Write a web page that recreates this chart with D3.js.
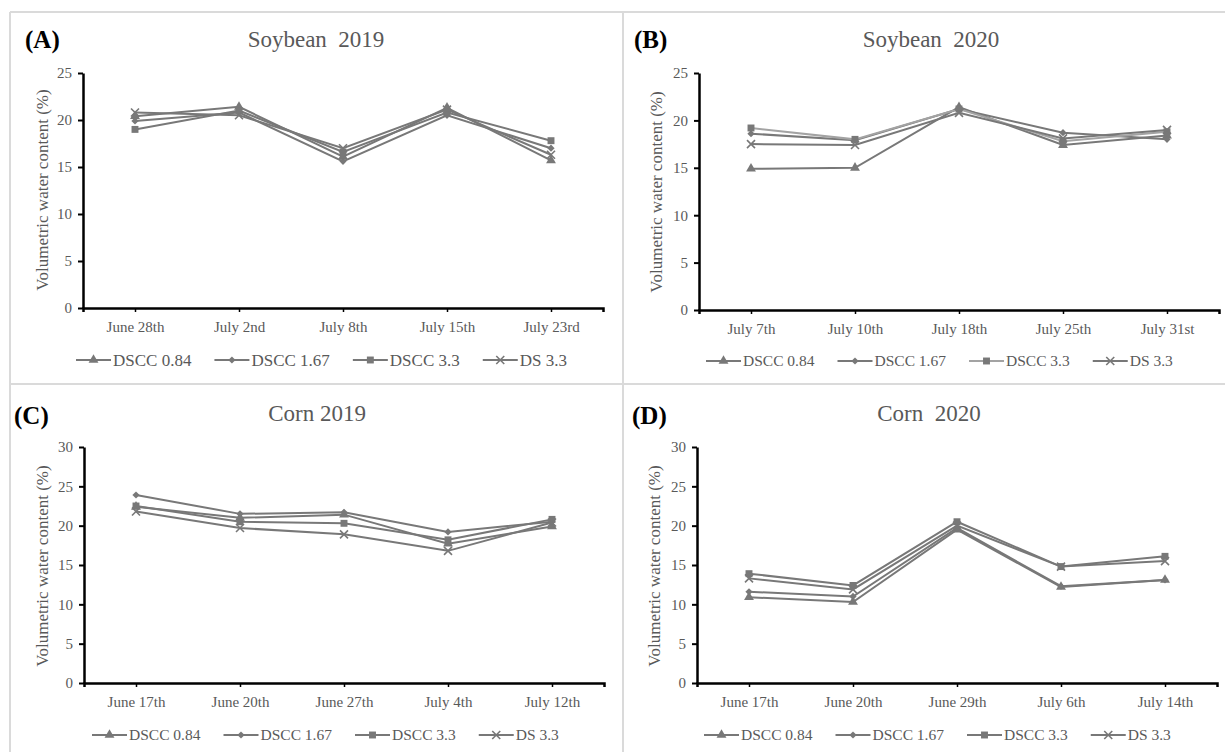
<!DOCTYPE html>
<html>
<head>
<meta charset="utf-8">
<script src="https://cdn.jsdelivr.net/npm/d3@7"></script>
<style>
  body { margin: 0; background: #fff; }
  svg { display: block; font-family: "Liberation Serif", "Times New Roman", serif; }
</style>
</head>
<body>
<div id="chart"></div>
<script>
// series names (legend order)
var seriesNames = ["DSCC 0.84", "DSCC 1.67", "DSCC 3.3", "DS 3.3"];

// (A) Soybean 2019
var soy2019Dates = ["June 28th", "July 2nd", "July 8th", "July 15th", "July 23rd"];
var soy2019Dscc084 = [20.4, 21.4, 16.1, 21.3, 15.7];
var soy2019Dscc167 = [19.9, 20.8, 15.6, 20.5, 17.0];
var soy2019Dscc33 = [19.0, 21.0, 16.6, 20.8, 17.8];
var soy2019Ds33 = [20.8, 20.5, 17.0, 21.1, 16.3];

// (B) Soybean 2020
var soy2020Dates = ["July 7th", "July 10th", "July 18th", "July 25th", "July 31st"];
var soy2020Dscc084 = [14.9, 15.0, 21.4, 17.4, 18.4];
var soy2020Dscc167 = [18.6, 17.9, 21.2, 18.7, 18.0];
var soy2020Dscc33 = [19.2, 18.0, 21.2, 17.8, 18.8];
var soy2020Ds33 = [17.5, 17.4, 20.8, 18.1, 19.0];

// (C) Corn 2019
var corn2019Dates = ["June 17th", "June 20th", "June 27th", "July 4th", "July 12th"];
var corn2019Dscc084 = [22.4, 21.0, 21.4, 17.7, 19.9];
var corn2019Dscc167 = [23.9, 21.5, 21.7, 19.2, 20.5];
var corn2019Dscc33 = [22.5, 20.5, 20.3, 18.2, 20.8];
var corn2019Ds33 = [21.8, 19.7, 18.9, 16.8, 20.4];

// (D) Corn 2020
var corn2020Dates = ["June 17th", "June 20th", "June 29th", "July 6th", "July 14th"];
var corn2020Dscc084 = [10.9, 10.3, 19.5, 12.2, 13.1];
var corn2020Dscc167 = [11.6, 11.0, 19.7, 12.3, 13.1];
var corn2020Dscc33 = [13.9, 12.4, 20.5, 14.8, 16.1];
var corn2020Ds33 = [13.3, 11.9, 20.0, 14.8, 15.5];

// y ticks
var soyTicks = [0, 5, 10, 15, 20, 25];
var cornTicks = [0, 5, 10, 15, 20, 25, 30];

var w = 1225, h = 752;
var grey = "#787878", textGrey = "#595959";
var markers = ["triangle", "diamond", "square", "cross"];

// panel layout
var panels = [
  { tag: "(A)", title: "Soybean  2019", dates: soy2019Dates, yTicks: soyTicks,
    series: [soy2019Dscc084, soy2019Dscc167, soy2019Dscc33, soy2019Ds33],
    x0: 83, yBottom: 308, yTop: 73, titleX: 316, titleY: 47, tagX: 25, tagY: 48,
    ylabX: 48, ylabY: 190, legX: 76, legY: 360, legFont: 17, lineColors: [grey, grey, grey, grey] },
  { tag: "(B)", title: "Soybean  2020", dates: soy2020Dates, yTicks: soyTicks,
    series: [soy2020Dscc084, soy2020Dscc167, soy2020Dscc33, soy2020Ds33],
    x0: 699, yBottom: 310, yTop: 73, titleX: 931, titleY: 47, tagX: 634, tagY: 48,
    ylabX: 662, ylabY: 192, legX: 706, legY: 361, legFont: 15.5, lineColors: [grey, grey, "#a3a3a3", grey] },
  { tag: "(C)", title: "Corn 2019", dates: corn2019Dates, yTicks: cornTicks,
    series: [corn2019Dscc084, corn2019Dscc167, corn2019Dscc33, corn2019Ds33],
    x0: 84, yBottom: 683, yTop: 447, titleX: 317, titleY: 421, tagX: 14, tagY: 424,
    ylabX: 48, ylabY: 566, legX: 92, legY: 735, legFont: 15.5, lineColors: [grey, grey, grey, grey] },
  { tag: "(D)", title: "Corn  2020", dates: corn2020Dates, yTicks: cornTicks,
    series: [corn2020Dscc084, corn2020Dscc167, corn2020Dscc33, corn2020Ds33],
    x0: 697, yBottom: 683, yTop: 447, titleX: 929, titleY: 421, tagX: 632, tagY: 424,
    ylabX: 660, ylabY: 566, legX: 704, legY: 735, legFont: 15.5, lineColors: [grey, grey, grey, grey] }
];

var svg = d3.select("#chart")
  .append("svg")
  .attr("width", w)
  .attr("height", h);

// panel borders
var borders = [[10, 12, w, 12], [10, 12, 10, h], [623, 12, 623, h], [10, 384, w, 384]];
svg.selectAll("line.border")
  .data(borders)
  .enter()
  .append("line")
  .attr("class", "border")
  .attr("x1", d => d[0]).attr("y1", d => d[1])
  .attr("x2", d => d[2]).attr("y2", d => d[3])
  .attr("stroke", "#dadada")
  .attr("stroke-width", 2);

function drawMarker(g, type, x, y) {
  if (type === "cross") {
    g.append("path")
      .attr("d", "M-4,-4L4,4M-4,4L4,-4")
      .attr("transform", "translate(" + x + "," + y + ")")
      .attr("stroke", grey)
      .attr("stroke-width", 1.6)
      .attr("fill", "none");
    return;
  }
  var sym = type === "triangle" ? d3.symbolTriangle : d3.symbolSquare;
  var size = type === "triangle" ? 42 : (type === "square" ? 48 : 26);
  var rot = type === "diamond" ? " rotate(45)" : "";
  g.append("path")
    .attr("d", d3.symbol().type(sym).size(size)())
    .attr("transform", "translate(" + x + "," + y + ")" + rot)
    .attr("fill", grey);
}

panels.forEach(function(p) {
  var g = svg.append("g");
  var yMax = p.yTicks[p.yTicks.length - 1];

  var x = d3.scalePoint()
    .domain(p.dates)
    .range([p.x0, p.x0 + 520])
    .padding(0.5);

  var y = d3.scaleLinear()
    .domain([0, yMax])
    .range([p.yBottom, p.yTop]);

  // y axis
  var ya = g.append("g")
    .attr("transform", "translate(" + p.x0 + ",0)")
    .call(d3.axisLeft(y).tickValues(p.yTicks).tickSize(5).tickSizeOuter(0).tickPadding(6));
  ya.select(".domain").attr("stroke", "#000").attr("stroke-width", 2.5);
  ya.selectAll(".tick line").attr("stroke", "#000").attr("stroke-width", 2);
  ya.selectAll(".tick text")
    .attr("fill", textGrey)
    .style("font-size", "15px")
    .style("font-family", "'Liberation Serif', 'Times New Roman', serif");

  // x axis
  var xa = g.append("g")
    .attr("transform", "translate(0," + p.yBottom + ")")
    .call(d3.axisBottom(x).tickSize(4).tickSizeOuter(4).tickPadding(9));
  xa.select(".domain").attr("stroke", "#000").attr("stroke-width", 2.5);
  xa.selectAll(".tick line").attr("stroke", "#000").attr("stroke-width", 1.5);
  xa.selectAll(".tick text")
    .attr("fill", textGrey)
    .style("font-size", "15px")
    .style("font-family", "'Liberation Serif', 'Times New Roman', serif");

  // lines
  var line = d3.line()
    .x((d, i) => x(p.dates[i]))
    .y(d => y(d));

  p.series.forEach(function(s, k) {
    g.append("path")
      .datum(s)
      .attr("d", line)
      .attr("fill", "none")
      .attr("stroke", p.lineColors[k])
      .attr("stroke-width", 2);
  });
  p.series.forEach(function(s, k) {
    s.forEach(function(v, i) {
      drawMarker(g, markers[k], x(p.dates[i]), y(v));
    });
  });

  // title, tag, y label
  g.append("text")
    .attr("x", p.titleX).attr("y", p.titleY)
    .attr("text-anchor", "middle")
    .style("white-space", "pre")
    .style("font-size", "23px")
    .attr("fill", textGrey)
    .text(p.title);

  g.append("text")
    .attr("x", p.tagX).attr("y", p.tagY)
    .style("font-size", "25px")
    .style("font-weight", "bold")
    .attr("fill", "#000")
    .text(p.tag);

  g.append("text")
    .attr("transform", "translate(" + p.ylabX + "," + p.ylabY + ") rotate(-90)")
    .attr("text-anchor", "middle")
    .style("font-size", "17px")
    .attr("fill", textGrey)
    .text("Volumetric water content (%)");

  // legend
  var lx = p.legX;
  seriesNames.forEach(function(name, k) {
    g.append("line")
      .attr("x1", lx).attr("x2", lx + 35)
      .attr("y1", p.legY).attr("y2", p.legY)
      .attr("stroke", p.lineColors[k])
      .attr("stroke-width", 2);
    drawMarker(g, markers[k], lx + 17.5, p.legY);
    var t = g.append("text")
      .attr("x", lx + 37)
      .attr("y", p.legY)
      .attr("dy", "0.35em")
      .style("font-size", p.legFont + "px")
      .attr("fill", textGrey)
      .text(name);
    lx += 37 + t.node().getComputedTextLength() + 23;
  });
});
</script>
</body>
</html>
